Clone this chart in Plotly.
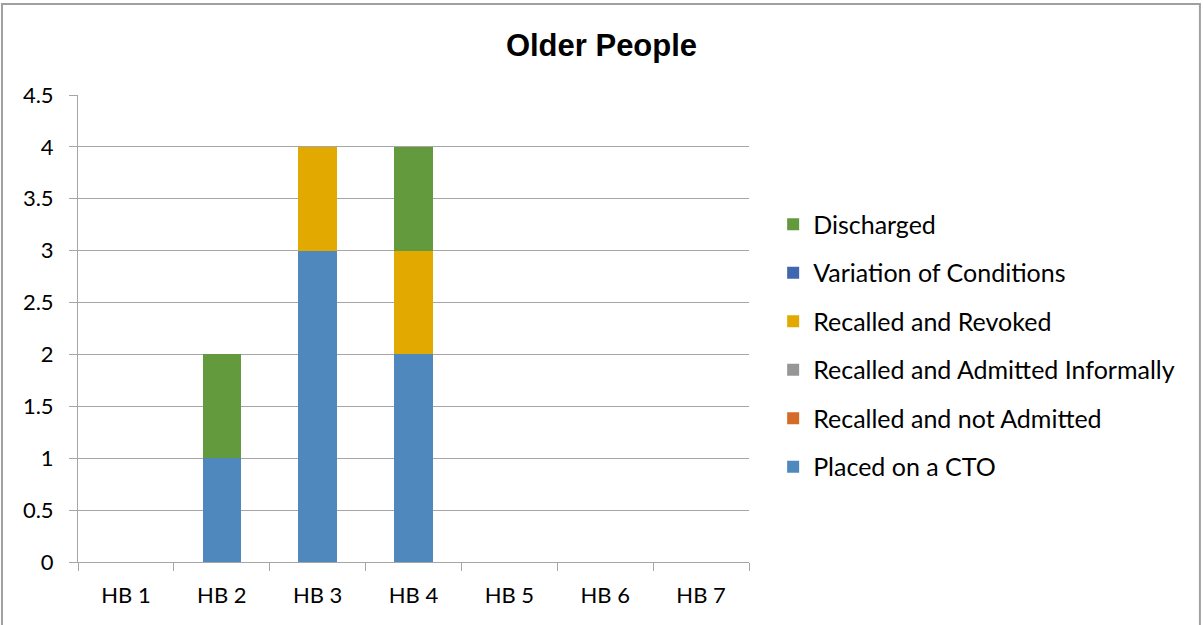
import plotly.graph_objects as go

# Kategorien und Werte
kategorien = ["HB 1", "HB 2", "HB 3", "HB 4", "HB 5", "HB 6", "HB 7"]

placed_on_cto = [0, 1, 3, 2, 0, 0, 0]
recalled_not_admitted = [0, 0, 0, 0, 0, 0, 0]
recalled_admitted_informally = [0, 0, 0, 0, 0, 0, 0]
recalled_revoked = [0, 0, 1, 1, 0, 0, 0]
variation_of_conditions = [0, 0, 0, 0, 0, 0, 0]
discharged = [0, 1, 0, 1, 0, 0, 0]

y_ticks = [0, 0.5, 1, 1.5, 2, 2.5, 3, 3.5, 4, 4.5]

serien = [
    ("Placed on a CTO", placed_on_cto, "#4F88BC"),
    ("Recalled and not Admitted", recalled_not_admitted, "#D46B29"),
    ("Recalled and Admitted Informally", recalled_admitted_informally, "#969696"),
    ("Recalled and Revoked", recalled_revoked, "#E2AA00"),
    ("Variation of Conditions", variation_of_conditions, "#3F67AF"),
    ("Discharged", discharged, "#639A3E"),
]

fig = go.Figure()

# Legende: Discharged oben, Placed on a CTO unten
for rang, (name, werte, farbe) in enumerate(serien):
    fig.add_trace(go.Bar(
        x=kategorien,
        y=werte,
        name=name,
        legendgroup=name,
        legendrank=len(serien) - rang,
        marker=dict(color=farbe, line=dict(width=0)),
        width=0.4,
    ))

grau = "#A6A6A6"

fig.update_layout(
    barmode="stack",
    width=1203,
    height=625,
    margin=dict(l=78, r=454, t=95, b=63),
    plot_bgcolor="white",
    paper_bgcolor="white",
    font=dict(family="Lato, Open Sans, sans-serif", size=22, color="#000000"),
    title=dict(
        text="<b>Older People</b>",
        x=0.5,
        xref="container",
        xanchor="center",
        y=0.928,
        yanchor="middle",
        font=dict(family="Liberation Sans, Arial, sans-serif", size=31, color="#000000"),
    ),
    legend=dict(
        x=1.036,
        xanchor="left",
        y=0.4636,
        yanchor="middle",
        traceorder="grouped",
        tracegroupgap=13,
        font=dict(size=25),
        bgcolor="rgba(0,0,0,0)",
    ),
    showlegend=True,
)

fig.update_xaxes(
    showline=True,
    linecolor=grau,
    linewidth=1,
    ticks="outside",
    tickson="boundaries",
    ticklen=8,
    tickcolor=grau,
    ticklabelstandoff=14,
    showgrid=False,
    tickfont=dict(size=22),
)

fig.update_yaxes(
    range=[0, 4.5],
    tickvals=y_ticks,
    ticktext=[str(t) for t in y_ticks],
    showline=True,
    linecolor=grau,
    linewidth=1,
    ticks="outside",
    ticklen=8,
    tickcolor=grau,
    ticklabelstandoff=11,
    showgrid=True,
    gridcolor=grau,
    gridwidth=1,
    zeroline=False,
    tickfont=dict(size=22),
)

# Rahmen um das Diagramm
fig.add_shape(
    type="rect",
    xref="paper", yref="paper",
    x0=-0.1133, x1=1.672,
    y0=-0.146, y1=1.1949,
    line=dict(color="#A0A0A0", width=2),
    fillcolor="rgba(0,0,0,0)",
    layer="below",
)

fig.write_html(
    "out.html",
    config={"displayModeBar": False},
    post_script="document.body.style.margin='0px';",
)
